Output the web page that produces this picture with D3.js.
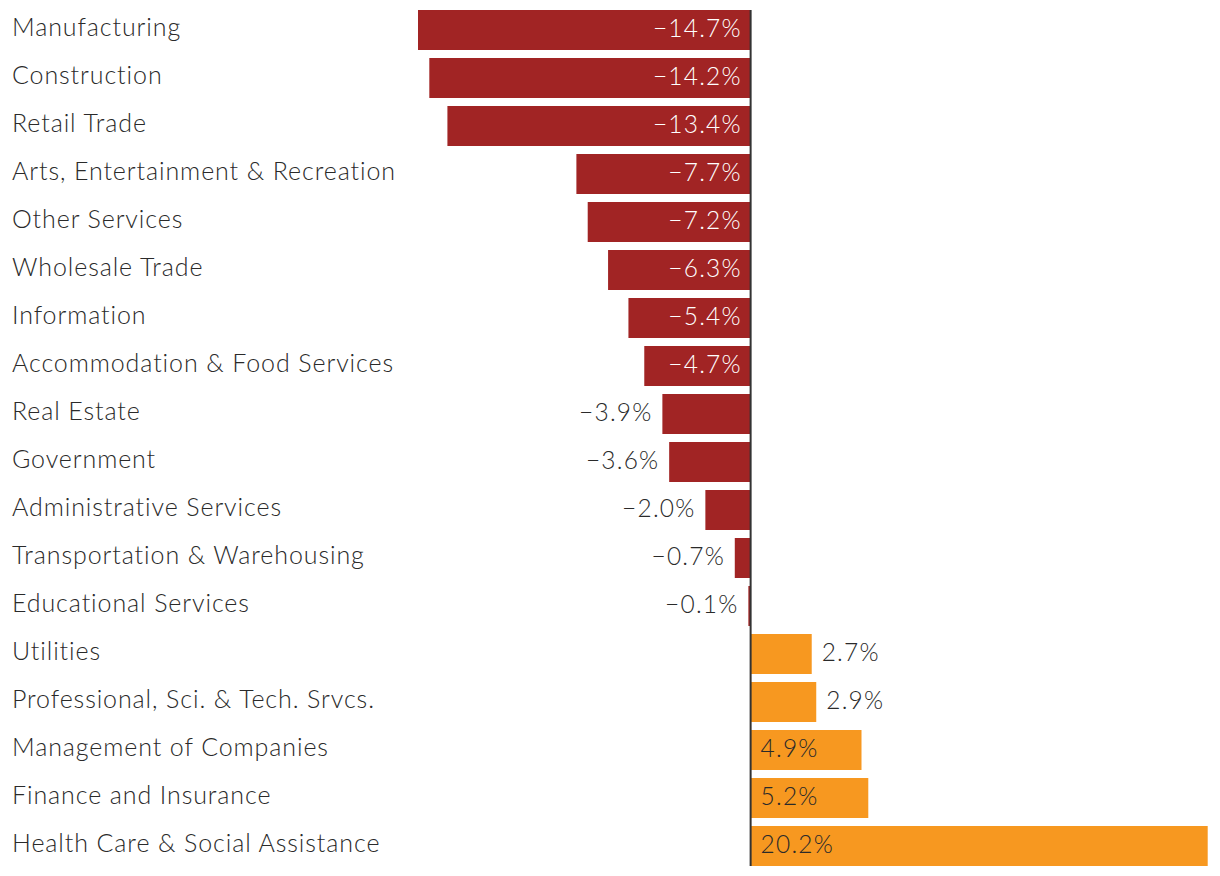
<!DOCTYPE html>
<html><head><meta charset="utf-8">
<script src="https://cdn.jsdelivr.net/npm/d3@7"></script>
<style>body{margin:0;background:#fff}svg{display:block}text{font-family:Lato,"Open Sans",sans-serif;font-weight:300}</style>
</head><body>
<svg id="chart" width="1220" height="876"></svg>
<script>
const categories = ["Manufacturing","Construction","Retail Trade","Arts, Entertainment & Recreation","Other Services","Wholesale Trade","Information","Accommodation & Food Services","Real Estate","Government","Administrative Services","Transportation & Warehousing","Educational Services","Utilities","Professional, Sci. & Tech. Srvcs.","Management of Companies","Finance and Insurance","Health Care & Social Assistance"];
const values = [-14.7,-14.2,-13.4,-7.7,-7.2,-6.3,-5.4,-4.7,-3.9,-3.6,-2.0,-0.7,-0.1,2.7,2.9,4.9,5.2,20.2];

const svg = d3.select("#chart");
const x = d3.scaleLinear().domain([-14.7, 20.2]).range([418, 1207.7]);
const y = d3.scaleBand().domain(categories).range([10, 10 + 48*categories.length]).paddingInner(8/48).paddingOuter(0).align(0);
const bh = 40;
const rowTop = d => 10 + categories.indexOf(d)*48;
const fmt = v => (v < 0 ? "\u2212" : "") + Math.abs(v).toFixed(1) + "%";
const red = "#a12424", orange = "#f79820";
const data = categories.map((c,i) => ({c, v: values[i]}));

svg.selectAll("text.cat").data(data).join("text")
  .attr("class","cat")
  .attr("x", 12)
  .attr("y", d => rowTop(d.c) + 26)
  .attr("fill","#2a2a2a")
  .attr("font-size", 25)
  .attr("letter-spacing", 0.9)
  .text(d => d.c);

svg.selectAll("rect.bar").data(data).join("rect")
  .attr("class","bar")
  .attr("x", d => Math.min(x(d.v), x(0)))
  .attr("y", d => rowTop(d.c))
  .attr("width", d => Math.abs(x(d.v) - x(0)))
  .attr("height", bh)
  .attr("fill", d => d.v < 0 ? red : orange);

svg.append("line")
  .attr("x1", x(0)).attr("x2", x(0))
  .attr("y1", 10).attr("y2", 10 + 48*categories.length - 8)
  .attr("stroke","#333").attr("stroke-width",2);

const ls = 1.2;
svg.selectAll("text.val").data(data).join("text")
  .attr("class","val")
  .attr("y", d => rowTop(d.c) + 27)
  .attr("font-size", 24.5)
  .attr("letter-spacing", ls)
  .each(function(d){
    const w = Math.abs(x(d.v) - x(0));
    const inside = w > 100;
    const t = d3.select(this).text(fmt(d.v));
    if (d.v < 0) {
      if (inside) t.attr("x", x(0) - 10 + ls).attr("text-anchor","end").attr("fill","#fff");
      else t.attr("x", x(d.v) - 11 + ls).attr("text-anchor","end").attr("fill","#2a2a2a");
    } else {
      if (inside) t.attr("x", x(0) + 10).attr("text-anchor","start").attr("fill","#2a2a2a");
      else t.attr("x", x(d.v) + 10).attr("text-anchor","start").attr("fill","#2a2a2a");
    }
  });
</script>
</body></html>
